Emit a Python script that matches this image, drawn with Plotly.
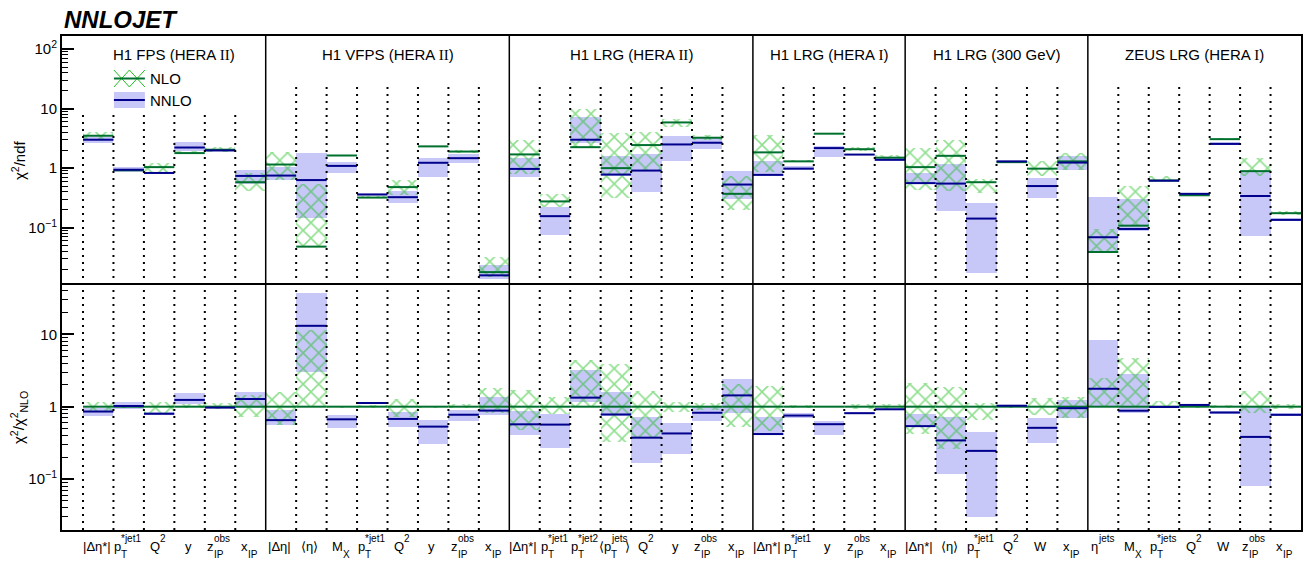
import plotly.graph_objects as go
from plotly.subplots import make_subplots

FONT = "Liberation Sans, Arial, Helvetica, sans-serif"
SERIF = "Liberation Serif, Times New Roman, serif"

# ---- data ----
groups = ["H1 FPS (HERA II)", "H1 VFPS (HERA II)", "H1 LRG (HERA II)",
          "H1 LRG (HERA I)", "H1 LRG (300 GeV)", "ZEUS LRG (HERA I)"]
group_sizes = [6, 8, 8, 5, 6, 7]

# observable labels: (main, superscript, subscript, trailing)
labels = [
    ("|Δη*|",), ("p", "*jet1", "T"), ("Q", "2"), ("y",), ("z", "obs", "IP"), ("x", "", "IP"),
    ("|Δη|",), ("⟨η⟩",), ("M", "", "X"), ("p", "*jet1", "T"), ("Q", "2"), ("y",),
    ("z", "obs", "IP"), ("x", "", "IP"),
    ("|Δη*|",), ("p", "*jet1", "T"), ("p", "*jet2", "T"), ("⟨p", "jets", "T", "⟩"),
    ("Q", "2"), ("y",), ("z", "obs", "IP"), ("x", "", "IP"),
    ("|Δη*|",), ("p", "*jet1", "T"), ("y",), ("z", "obs", "IP"), ("x", "", "IP"),
    ("|Δη*|",), ("⟨η⟩",), ("p", "*jet1", "T"), ("Q", "2"), ("W",), ("x", "", "IP"),
    ("η", "jets"), ("M", "", "X"), ("p", "*jets", "T"), ("Q", "2"), ("W",),
    ("z", "obs", "IP"), ("x", "", "IP"),
]

nlo = [3.5, 0.92, 1.04, 1.79, 2.04, 0.58,
       1.15, 0.048, 1.63, 0.32, 0.48, 2.32, 1.90, 0.0179,
       1.70, 0.276, 2.25, 1.00, 2.44, 5.86, 3.24, 0.37,
       1.84, 1.30, 3.79, 2.08, 1.50,
       1.04, 1.61, 0.58, 1.26, 0.98, 1.30,
       0.039, 0.108, 0.62, 0.35, 3.07, 0.89, 0.175]
nlo_lo = [3.0, 0.89, 0.86, 1.72, 1.87, 0.42,
          0.64, 0.048, 1.58, 0.31, 0.35, 2.25, 1.80, 0.0146,
          0.80, 0.22, 2.25, 0.32, 0.92, 4.9, 2.95, 0.195,
          0.85, 1.25, 3.70, 1.92, 1.40,
          0.43, 0.42, 0.38, 1.22, 0.75, 0.92,
          0.039, 0.108, 0.60, 0.34, 2.95, 0.73, 0.165]
nlo_hi = [4.1, 0.95, 1.20, 1.95, 2.27, 0.84,
          1.86, 0.55, 1.68, 0.335, 0.62, 2.40, 2.05, 0.032,
          2.92, 0.37, 10.0, 3.9, 4.0, 6.8, 3.6, 0.75,
          3.6, 1.36, 3.9, 2.25, 1.65,
          2.22, 3.0, 0.66, 1.29, 1.30, 1.79,
          0.096, 0.51, 0.74, 0.37, 3.2, 1.46, 0.19]
nnlo = [3.0, 0.94, 0.83, 2.22, 1.98, 0.74,
        0.75, 0.63, 1.09, 0.36, 0.325, 1.23, 1.47, 0.0158,
        0.97, 0.156, 3.0, 0.78, 0.91, 2.5, 2.67, 0.53,
        0.77, 0.98, 2.17, 1.69, 1.38,
        0.56, 0.55, 0.142, 1.30, 0.50, 1.24,
        0.069, 0.095, 0.615, 0.37, 2.55, 0.34, 0.135]
nnlo_lo = [2.6, 0.86, 0.79, 1.95, 1.94, 0.55,
           0.64, 0.146, 0.82, 0.35, 0.255, 0.70, 1.22, 0.0138,
           0.70, 0.074, 2.6, 0.75, 0.40, 1.32, 2.07, 0.30,
           0.76, 0.92, 1.55, 1.65, 1.34,
           0.56, 0.19, 0.0173, 1.27, 0.31, 0.92,
           0.039, 0.088, 0.60, 0.36, 2.45, 0.072, 0.13]
nnlo_hi = [3.4, 1.06, 0.87, 2.8, 2.04, 0.92,
           1.03, 1.78, 1.26, 0.375, 0.41, 1.50, 1.71, 0.024,
           1.50, 0.222, 7.2, 1.62, 1.74, 3.5, 3.2, 0.89,
           1.31, 1.07, 2.4, 1.74, 1.46,
           0.82, 1.17, 0.26, 1.33, 0.69, 1.60,
           0.33, 0.305, 0.63, 0.38, 2.7, 0.89, 0.145]

# ---- style ----
C_NLO = "#00702e"
C_NLO_HATCH = "#1fbf1f"
C_NNLO = "#00008c"
C_NNLO_BAND = "rgba(130,130,240,0.45)"

W, H = 1305, 562
L, R, T, B = 62, 2, 36, 32


def px2x(px):
    return (px - L) / (W - L - R)


def py2y(py):
    return (H - B - py) / (H - T - B)


def steps(vals):
    xs, ys = [], []
    for i, v in enumerate(vals):
        xs += [i, i + 1, None]
        ys += [v, v, None]
    return xs, ys


CW = {"|": 0.26, "*": 0.39, "i": 0.22, "j": 0.22, "t": 0.28, "I": 0.28, "Δ": 0.67,
      "⟨": 0.33, "⟩": 0.33, "M": 0.83, "W": 0.94, "Q": 0.78, "T": 0.61, "P": 0.67,
      "X": 0.67, "y": 0.5, "z": 0.5, "x": 0.5, "s": 0.5}


def tw(s, size):
    return sum(CW.get(ch, 0.56) for ch in s) * size


n = len(nlo)
xc = [i + 0.5 for i in range(n)]

fig = make_subplots(rows=2, cols=1, shared_xaxes=True, vertical_spacing=0)

for row in (1, 2):
    # lower panel: everything relative to the NLO central value
    norm = [1.0] * n if row == 1 else nlo
    c_nlo = [a / d for a, d in zip(nlo, norm)]
    l_nlo = [a / d for a, d in zip(nlo_lo, norm)]
    h_nlo = [a / d for a, d in zip(nlo_hi, norm)]
    c_nn = [a / d for a, d in zip(nnlo, norm)]
    l_nn = [a / d for a, d in zip(nnlo_lo, norm)]
    h_nn = [a / d for a, d in zip(nnlo_hi, norm)]

    fig.add_trace(go.Bar(
        x=xc, base=l_nn, y=[h - l for h, l in zip(h_nn, l_nn)], width=1,
        marker=dict(color=C_NNLO_BAND, line=dict(width=0)),
        hoverinfo="skip", showlegend=False,
    ), row=row, col=1)
    fig.add_trace(go.Bar(
        x=xc, base=l_nlo, y=[h - l for h, l in zip(h_nlo, l_nlo)], width=1,
        marker=dict(color="rgba(0,0,0,0)", line=dict(width=0),
                    pattern=dict(shape="x", fgcolor=C_NLO_HATCH, bgcolor="rgba(0,0,0,0)",
                                 size=11, solidity=0.27)),
        hoverinfo="skip", showlegend=False,
    ), row=row, col=1)
    sx, sy = steps(c_nlo)
    fig.add_trace(go.Scatter(x=sx, y=sy, mode="lines", line=dict(color=C_NLO, width=2),
                             hoverinfo="skip", showlegend=False), row=row, col=1)
    sx, sy = steps(c_nn)
    fig.add_trace(go.Scatter(x=sx, y=sy, mode="lines", line=dict(color=C_NNLO, width=2),
                             hoverinfo="skip", showlegend=False), row=row, col=1)

shapes = []
annotations = []

# group borders, dotted bin separators, group titles
start = 0
for gi, (name, size) in enumerate(zip(groups, group_sizes)):
    end = start + size
    if gi > 0:
        shapes.append(dict(type="line", xref="x", yref="paper", x0=start, x1=start, y0=0, y1=1,
                           line=dict(color="black", width=1.5)))
    top_dot = py2y(115) if gi == 0 else py2y(82)
    for e in range(start + (0 if gi == 0 else 1), end):
        shapes.append(dict(type="line", xref="x", yref="paper", x0=e, x1=e, y0=0, y1=top_dot,
                           line=dict(color="black", width=2, dash="2px,5px")))
    title = name.replace("HERA II", "HERA <span style='font-family:%s'>II</span>" % SERIF)
    title = title.replace("HERA I)", "HERA <span style='font-family:%s'>I</span>)" % SERIF)
    annotations.append(dict(xref="x", yref="paper", x=(start + end) / 2, y=py2y(55),
                            xanchor="center", yanchor="middle",
                            text=title, showarrow=False, font=dict(size=15)))
    start = end

# observable labels under the ratio panel
MS, SS = 13, 10
for i, lab in enumerate(labels):
    main = lab[0]
    sup = lab[1] if len(lab) > 1 else ""
    sub = lab[2] if len(lab) > 2 else ""
    post = lab[3] if len(lab) > 3 else ""
    ws = max(tw(sup, SS), tw(sub, SS))
    wm = tw(main, MS)
    wp = tw(post, MS)
    b = -(wm + ws + wp) / 2 + wm
    base = dict(xref="x2", yref="paper", x=i + 0.5, y=0, showarrow=False, yanchor="middle")
    annotations.append(dict(base, text=main, xanchor="right", xshift=b + 1, yshift=-16,
                            font=dict(size=MS)))
    if sup:
        annotations.append(dict(base, text=sup, xanchor="left", xshift=b - 3, yshift=-8,
                                font=dict(size=SS)))
    if sub:
        annotations.append(dict(base, text=sub, xanchor="left", xshift=b - 3, yshift=-24,
                                font=dict(size=SS)))
    if post:
        annotations.append(dict(base, text=post, xanchor="left", xshift=b + ws - 4, yshift=-16,
                                font=dict(size=MS)))

# title and axis titles
annotations.append(dict(xref="paper", yref="paper", x=px2x(62), y=py2y(20), xanchor="left",
                        yanchor="middle", showarrow=False,
                        text="<b><i>NNLOJET</i></b>", font=dict(size=24)))
annotations.append(dict(xref="paper", yref="paper", x=px2x(18), y=py2y(160), textangle=-90,
                        xanchor="center", yanchor="middle",
                        showarrow=False, text="χ<sup>2</sup>/ndf", font=dict(size=15)))
annotations.append(dict(xref="paper", yref="paper", x=px2x(18), y=py2y(418), textangle=-90,
                        xanchor="center", yanchor="middle",
                        showarrow=False, text="χ<sup>2</sup>/χ<sup>2</sup><sub>NLO</sub>",
                        font=dict(size=15)))

# legend
lx0, lx1 = 114, 145
ny0, ny1 = 70, 87
xm = (lx0 + lx1) / 2
hatch = "M%f,%f L%f,%f M%f,%f L%f,%f M%f,%f L%f,%f M%f,%f L%f,%f" % (
    px2x(lx0), py2y(ny0), px2x(xm), py2y(ny1), px2x(lx0), py2y(ny1), px2x(xm), py2y(ny0),
    px2x(xm), py2y(ny0), px2x(lx1), py2y(ny1), px2x(xm), py2y(ny1), px2x(lx1), py2y(ny0))
shapes.append(dict(type="path", xref="paper", yref="paper", path=hatch,
                   line=dict(color=C_NLO_HATCH, width=1)))
shapes.append(dict(type="line", xref="paper", yref="paper", x0=px2x(lx0), x1=px2x(lx1),
                   y0=py2y(78.5), y1=py2y(78.5), line=dict(color=C_NLO, width=2)))
shapes.append(dict(type="rect", xref="paper", yref="paper", x0=px2x(lx0), x1=px2x(lx1),
                   y0=py2y(108), y1=py2y(92), fillcolor=C_NNLO_BAND, line=dict(width=0)))
shapes.append(dict(type="line", xref="paper", yref="paper", x0=px2x(lx0), x1=px2x(lx1),
                   y0=py2y(100), y1=py2y(100), line=dict(color=C_NNLO, width=2)))
annotations.append(dict(xref="paper", yref="paper", x=px2x(148), y=py2y(78), xanchor="left",
                        yanchor="middle", showarrow=False, text="NLO", font=dict(size=15)))
annotations.append(dict(xref="paper", yref="paper", x=px2x(148), y=py2y(100), xanchor="left",
                        yanchor="middle", showarrow=False, text="NNLO", font=dict(size=15)))

fig.update_layout(
    width=W, height=H,
    margin=dict(l=L, r=R, t=T, b=B),
    plot_bgcolor="white", paper_bgcolor="white",
    font=dict(family=FONT, color="black"),
    barmode="overlay", bargap=0, showlegend=False,
    shapes=shapes, annotations=annotations,
)
axis_common = dict(showline=True, linecolor="black", linewidth=2,
                   showgrid=False, zeroline=False)
fig.update_xaxes(range=[-0.69, n], ticks="", showticklabels=False, **axis_common)
fig.update_xaxes(mirror=True, row=1, col=1)
fig.update_xaxes(mirror=False, row=2, col=1)


def minor_vals(lo_exp, hi_exp):
    return [m * 10 ** e for e in range(lo_exp, hi_exp) for m in range(2, 10)]


fig.update_yaxes(
    type="log", range=[-1.93, 2.22], row=1, col=1, mirror=True,
    tickvals=[0.1, 1, 10, 100], ticktext=["10<sup>−1</sup>", "1", "10", "10<sup>2</sup>"],
    ticks="inside", ticklen=12, tickwidth=1.5, tickcolor="black", tickfont=dict(size=15),
    minor=dict(tickvals=minor_vals(-2, 3), ticks="inside", ticklen=6, tickwidth=1.2,
               tickcolor="black"),
    **axis_common,
)
fig.update_yaxes(
    type="log", range=[-1.705, 1.71], row=2, col=1, mirror=True,
    tickvals=[0.1, 1, 10], ticktext=["10<sup>−1</sup>", "1", "10"],
    ticks="inside", ticklen=12, tickwidth=1.5, tickcolor="black", tickfont=dict(size=15),
    minor=dict(tickvals=minor_vals(-2, 2), ticks="inside", ticklen=6, tickwidth=1.2,
               tickcolor="black"),
    **axis_common,
)

fig.write_html("out.html", config={"displayModeBar": False},
               post_script="document.body.style.margin='0px';")
